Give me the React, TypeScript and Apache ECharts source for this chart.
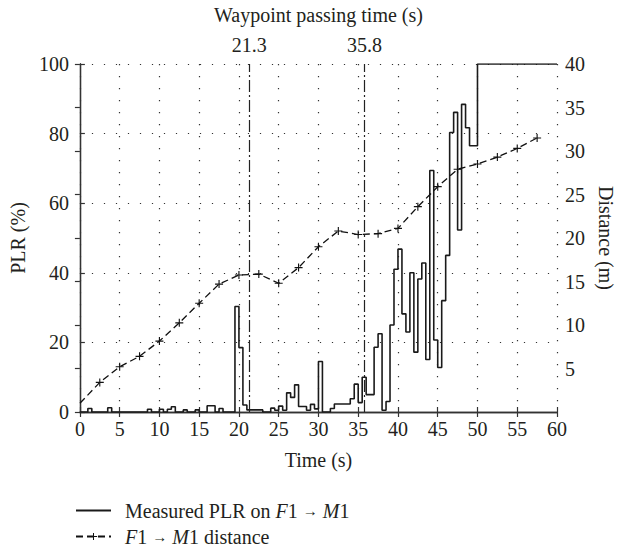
import React, { useEffect, useRef } from "react";
import * as echarts from "echarts";

// PLR sampled every 0.5 s, starting at t = 0 (values in %)
const PLR_STEP = 0.5;
const plrValues = [
  0, 0, 1.0, 0, 0, 0, 0, 1.2, 0, 0, // 0 - 4.5
  0, 0, 0, 0, 0, 0, 0, 0.8, 0, 0, // 5 - 9.5
  0.8, 0, 0.8, 1.5, 0, 0, 0.6, 0, 0, 0.6, // 10 - 14.5
  0, 0, 1.8, 1.8, 0, 1.0, 0, 0, 0, 30.3, // 15 - 19.5
  18.5, 2.0, 0.6, 0.6, 0.6, 0.6, 0, 0, 1.1, 0.5, // 20 - 24.5
  1.7, 0.5, 5.5, 4.2, 7.8, 1.6, 1.6, 0.5, 2.2, 0.9, // 25 - 29.5
  14.5, 0, 0, 1.0, 2.3, 2.3, 2.3, 2.3, 3.8, 8.0, // 30 - 34.5
  2.7, 10, 5, 5, 18.6, 22.5, 0.5, 3.0, 25, 41, // 35 - 39.5
  46.8, 28.2, 23, 40, 17.2, 38.2, 42.8, 15.1, 69.4, 20.7, // 40 - 44.5
  12.8, 32, 45, 80.3, 86.1, 52.3, 88.4, 81.7, 76.5, 76.5, // 45 - 49.5
  100, 100, 100, 100, 100, 100, 100, 100, 100, 100, // 50 - 54.5
  100, 100, 100, 100, 100, 100, 100, 100, 100, 100, // 55 - 59.5
];
const PLR_END_TIME = 60;

// F1 -> M1 distance (m)
const distTimes = [0, 2.5, 5, 7.5, 10, 12.5, 15, 17.5, 20, 22.5, 25, 27.5, 30, 32.5, 35, 37.5, 40, 42.5, 45, 47.5, 50, 52.5, 55, 57.5];
const distValues = [1.0, 3.4, 5.2, 6.4, 8.15, 10.25, 12.5, 14.7, 15.75, 15.85, 14.8, 16.6, 19.0, 20.8, 20.4, 20.5, 21.1, 23.6, 25.9, 27.9, 28.5, 29.3, 30.3, 31.5];

// Waypoint passing times (s)
const waypointTimes = [21.3, 35.8];

const FONT = "Liberation Serif";
const INK = "#231f20";
const PLUS = "path://M4.3,0H5.7V4.3H10V5.7H5.7V10H4.3V5.7H0V4.3H4.3Z";

const PLR_NAME = "Measured PLR on F1 → M1";
const DIST_NAME = "F1 → M1 distance";

export default function App() {
  const ref = useRef<HTMLDivElement>(null);
  useEffect(() => {
    const chart = echarts.init(ref.current!, null, { renderer: "svg" });
    const plrData: number[][] = plrValues.map((v, i) => [i * PLR_STEP, v]);
    plrData.push([PLR_END_TIME, plrValues[plrValues.length - 1]]);
    const distData = distTimes.map((t, i) =>
      i === 0 ? { value: [t, distValues[i]], symbol: "none" } : { value: [t, distValues[i]] }
    );
    const axisLine = { show: true, lineStyle: { color: "#333", width: 1.3 } };
    const tick = { show: true, inside: true, length: 5, lineStyle: { color: "#333", width: 1.2 } };
    const label = { fontFamily: FONT, fontSize: 20, color: INK };
    const dotted = { show: true, lineStyle: { type: [1.2, 10.8], color: "#333", width: 1.2 } };
    const rich = {
      s: { width: 9, fontFamily: FONT, fontSize: 20, lineHeight: 20 },
      n: { fontFamily: FONT, fontSize: 20, color: INK, lineHeight: 20 },
      i: { fontFamily: FONT, fontSize: 20, color: INK, fontStyle: "italic", lineHeight: 20 },
      a: { fontFamily: FONT, fontSize: 15, color: INK, lineHeight: 20 },
    };
    chart.setOption({
      animation: false,
      backgroundColor: "#ffffff",
      grid: { left: 73.5, right: 61.5, top: 62, bottom: 140, containLabel: false },
      legend: {
        orient: "vertical",
        left: 75,
        top: 500.5,
        padding: 0,
        itemWidth: 35,
        itemHeight: 9,
        itemGap: 6,
        selectedMode: false,
        data: [
          { name: PLR_NAME, itemStyle: { opacity: 0 } },
          { name: DIST_NAME },
        ],
        formatter: (name: string) =>
          name === PLR_NAME
            ? "{s|}{n|Measured PLR on }{i|F}{n|1 }{a|→}{n| }{i|M}{n|1}"
            : "{s|}{i|F}{n|1 }{a|→}{n| }{i|M}{n|1 distance}",
        textStyle: { fontFamily: FONT, fontSize: 20, color: INK, rich },
      },
      xAxis: [
        {
          type: "value",
          min: 0,
          max: 60,
          interval: 5,
          position: "bottom",
          axisLine,
          axisTick: tick,
          axisLabel: { ...label, margin: 7 },
          splitLine: dotted,
          name: "Time (s)",
          nameLocation: "middle",
          nameGap: 38,
          nameTextStyle: label,
        },
        {
          type: "value",
          min: 0,
          max: 60,
          interval: 5,
          position: "top",
          axisLine,
          axisTick: tick,
          axisLabel: { show: false },
          splitLine: { show: false },
          name: "Waypoint passing time (s)",
          nameLocation: "middle",
          nameGap: 39,
          nameTextStyle: label,
        },
      ],
      yAxis: [
        {
          type: "value",
          min: 0,
          max: 100,
          interval: 20,
          position: "left",
          axisLine,
          axisTick: tick,
          axisLabel: { ...label, margin: 11 },
          splitLine: dotted,
          name: "PLR (%)",
          nameLocation: "middle",
          nameGap: 48,
          nameRotate: 90,
          nameTextStyle: label,
        },
        {
          type: "value",
          min: 0,
          max: 40,
          interval: 5,
          position: "right",
          axisLine,
          axisTick: tick,
          axisLabel: { ...label, margin: 8, formatter: (v: number) => (v === 0 ? "" : String(v)) },
          splitLine: { show: false },
          name: "Distance (m)",
          nameLocation: "middle",
          nameGap: 39,
          nameRotate: -90,
          nameTextStyle: label,
        },
      ],
      series: [
        {
          name: PLR_NAME,
          type: "line",
          step: "end",
          xAxisIndex: 0,
          yAxisIndex: 0,
          data: plrData,
          symbol: "none",
          lineStyle: { color: "#1a1a1a", width: 1.6 },
          itemStyle: { color: "#1a1a1a" },
          markLine: {
            silent: true,
            symbol: ["none", "none"],
            lineStyle: { type: [12, 3, 2, 3], color: "#222", width: 1.2 },
            label: { show: true, position: "end", distance: 9, formatter: "{c}", ...label },
            data: waypointTimes.map((t) => ({ xAxis: t })),
          },
          z: 3,
        },
        {
          name: DIST_NAME,
          type: "line",
          xAxisIndex: 0,
          yAxisIndex: 1,
          data: distData,
          symbol: PLUS,
          symbolSize: 8,
          showSymbol: true,
          itemStyle: { color: "#111" },
          lineStyle: { type: [7, 4], color: "#111", width: 1.3 },
          z: 4,
        },
      ],
    });
    return () => chart.dispose();
  }, []);
  return <div ref={ref} style={{ position: "fixed", left: 0, top: 0, width: 624, height: 552 }} />;
}
